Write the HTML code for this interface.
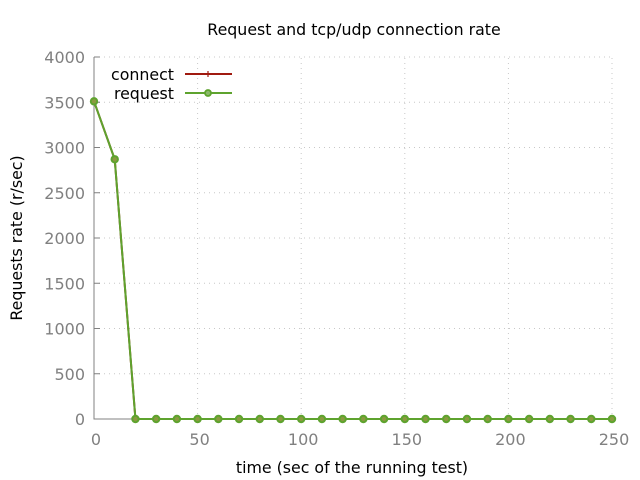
<!DOCTYPE html>
<html><head><meta charset="utf-8"><style>
body{margin:0;background:#fff}
svg{display:block;font-family:"DejaVu Sans","Liberation Sans",sans-serif}
</style></head><body>
<svg id="chart" width="640" height="480">
<text x="354" y="35" font-size="15.8" text-anchor="middle" fill="#000">Request and tcp/udp connection rate</text>
<text x="352" y="473" font-size="15.8" text-anchor="middle" fill="#000">time (sec of the running test)</text>
<text transform="translate(22,238) rotate(-90)" font-size="15.8" text-anchor="middle" fill="#000">Requests rate (r/sec)</text>
<g id="grid"></g>
<g id="axes"></g>
<g id="series"></g>
<g>
<g>
<text x="174" y="80" font-size="15.8" text-anchor="end">connect</text>
<line x1="185" y1="74" x2="232" y2="74" stroke="#a01a10" stroke-width="2"/>
<path d="M205,74h6M208,71v6" stroke="#a01a10" stroke-width="1.2"/>
</g>
<g>
<text x="174" y="99" font-size="15.8" text-anchor="end">request</text>
<line x1="185" y1="93" x2="232" y2="93" stroke="#5ea32e" stroke-width="2"/>
<circle cx="208" cy="93" r="3" fill="#8ab86a" stroke="#5ea32e" stroke-width="1.8"/>
</g>
</g>
</svg>
<script>
const xValues=[0,10,20,30,40,50,60,70,80,90,100,110,120,130,140,150,160,170,180,190,200,210,220,230,240,250];
const connectValues=[3510,2870,0,0,0,0,0,0,0,0,0,0,0,0,0,0,0,0,0,0,0,0,0,0,0,0];
const requestValues=[3510,2870,0,0,0,0,0,0,0,0,0,0,0,0,0,0,0,0,0,0,0,0,0,0,0,0];
const xTicks=[0,50,100,150,200,250];
const yTicks=[0,500,1000,1500,2000,2500,3000,3500,4000];
const X0=94,X1=612,Y0=419,Y1=57;
const sx=v=>X0+(v-0)/250*(X1-X0);
const sy=v=>Y0-(v/4000)*(Y0-Y1);
const NS="http://www.w3.org/2000/svg";
function mk(t,a,p){const e=document.createElementNS(NS,t);for(const k in a)e.setAttribute(k,a[k]);p.appendChild(e);return e;}
const grid=document.getElementById('grid'),axes=document.getElementById('axes'),ser=document.getElementById('series');
yTicks.forEach(v=>{
 const y=sy(v);
 if(v>0){const g=mk('line',{x1:X0,x2:X1,y1:y,y2:y,stroke:'#c8c8c8','stroke-dasharray':'1,4'},grid);
 
 }
 const t=mk('line',{x1:X0,x2:X0+6,y1:y,y2:y,stroke:'#808080'},axes);
 
 
 const l=mk('text',{x:X0-9,y:y+6,'font-size':16,'text-anchor':'end',fill:'#808080'},axes);
 l.textContent=v;
 
 
});
xTicks.forEach(v=>{
 const x=sx(v);
 if(v>0){const g=mk('line',{x1:x,x2:x,y1:Y0,y2:Y1,stroke:'#c8c8c8','stroke-dasharray':'1,4'},grid);
 
 }
 const l=mk('text',{x:x+2,y:Y0+26,'font-size':16,'text-anchor':'middle',fill:'#808080'},axes);
 l.textContent=v;
 
 
});
const ax=mk('path',{d:`M${X0},${Y1}V${Y0}H${X1}`,fill:'none',stroke:'#808080'},axes);


function series(vals,color,name,marker){
 const pts=vals.map((v,i)=>sx(xValues[i])+','+sy(v)).join(' ');
 const pl=mk('polyline',{points:pts,fill:'none',stroke:color,'stroke-width':2},ser);
 
 
 vals.forEach((v,i)=>{
  let m;
  if(marker==='circle'){m=mk('circle',{cx:sx(xValues[i]),cy:sy(v),r:3.2,fill:'#8a9a40',stroke:color,'stroke-width':2},ser);}
  else{m=mk('path',{d:`M${sx(xValues[i])-3},${sy(v)}h6M${sx(xValues[i])},${sy(v)-3}v6`,stroke:color,'stroke-width':1},ser);}
  
  
 });
}
series(connectValues,'#a01a10','connect','plus');
series(requestValues,'#5ea32e','request','circle');
</script>
</body></html>
